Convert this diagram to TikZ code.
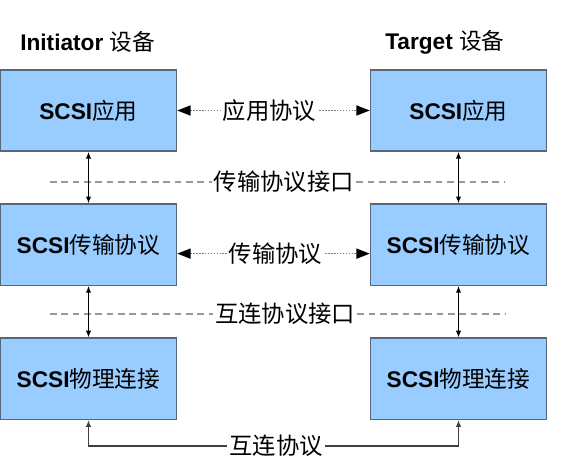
\documentclass[tikz,border=0pt]{standalone}
\usepackage{fontspec}
\setmainfont{Liberation Sans}
\newfontfamily\cjk{Noto Sans CJK SC}
\usepackage{xcolor}
\usepackage{tikz}
\usetikzlibrary{arrows.meta, positioning}

\definecolor{boxfill}{HTML}{99CCFF}
\definecolor{boxline}{HTML}{56687A}
\newcommand{\zh}[1]{{\cjk #1}}

\begin{document}
\begin{tikzpicture}[
  x=0.75pt, y=-0.75pt,
  node distance=38.5pt,
  layer/.style={rectangle, draw=boxline, line width=1.1pt, fill=boxfill, minimum width=132pt, minimum height=61pt, inner sep=0pt, font=\fontsize{17}{20}\selectfont},
  lbl/.style={font=\fontsize{17.5}{20}\selectfont, fill=white, text=black, inner sep=1.5pt},
  ttl/.style={anchor=west, inner sep=0pt, font=\fontsize{17}{20}\selectfont},
  harr/.style={{Triangle[length=10pt,width=7.5pt,black]}-{Triangle[length=10pt,width=7.5pt,black]}, gray, densely dotted, line width=1.2pt},
  varr/.style={{Latex[length=5pt,width=4pt]}-{Latex[length=5pt,width=4pt]}, line width=0.8pt},
  iface/.style={gray!80, dashed, dash pattern=on 5pt off 3.5pt, line width=0.8pt},
  lnk/.style={{Latex[length=5pt,width=4pt]}-, black!75, line width=0.8pt},
]
\useasboundingbox (0,0) rectangle (587,463);

% titles
\node[ttl] (ini) at (20,42) {\textbf{Initiator} \zh{设备}};
\node[ttl] (tgt) at (385,42) {\textbf{Target} \zh{设备}};

% initiator stack
\node[layer] (app1) at (88.5,110.5) {\textbf{SCSI}\zh{应用}};
\node[layer, below=of app1] (tp1) {\textbf{SCSI}\zh{传输协议}};
\node[layer, below=of tp1] (phy1) {\textbf{SCSI}\zh{物理连接}};

% target stack
\node[layer] (app2) at (458.5,110.5) {\textbf{SCSI}\zh{应用}};
\node[layer, below=of app2] (tp2) {\textbf{SCSI}\zh{传输协议}};
\node[layer, below=of tp2] (phy2) {\textbf{SCSI}\zh{物理连接}};

% peer protocols
\draw[harr] (app1) -- node[lbl, pos=0.48] {\zh{应用协议}} (app2);
\draw[harr] ([yshift=-6.75pt]tp1.east) -- node[lbl, pos=0.51] {\zh{传输协议}} ([yshift=-6.75pt]tp2.west);

% interfaces
\coordinate (tpL) at (50,182);
\coordinate (tpR) at (505,182);
\coordinate (icL) at (50,314);
\coordinate (icR) at (506,314);
\node[lbl] (tpif) at (284,182) {\zh{传输协议接口}};
\node[lbl] (icif) at (285,314) {\zh{互连协议接口}};
\draw[iface] (tpL) -- (tpif.west);
\draw[iface] (tpif.east) -- (tpR);
\draw[iface] (icL) -- (icif.west);
\draw[iface] (icif.east) -- (icR);

% layer arrows
\draw[varr] (app1) -- (tp1);
\draw[varr] (tp1) -- (phy1);
\draw[varr] (app2) -- (tp2);
\draw[varr] (tp2) -- (phy2);

% interconnect
\node[lbl] (link) at (276,446) {\zh{互连协议}};
\draw[lnk] (phy1.south) |- (link.west);
\draw[lnk] (phy2.south) |- (link.east);
\end{tikzpicture}
\end{document}
